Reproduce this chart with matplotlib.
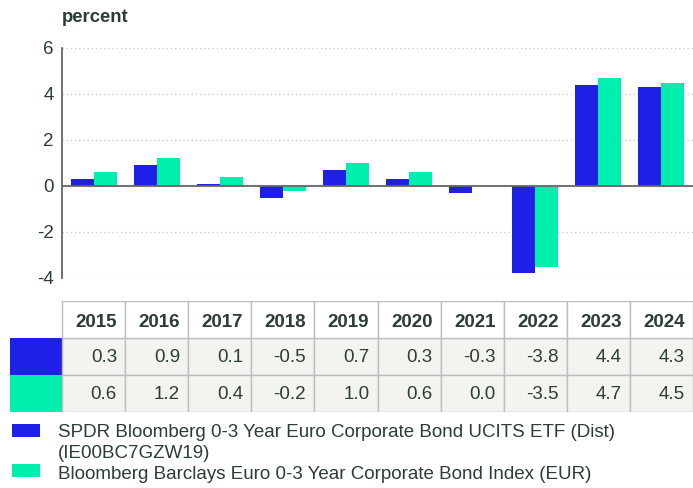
import numpy as np
import matplotlib.pyplot as plt

# --------------------------------------------
# DATA
# --------------------------------------------

years = ["2015", "2016", "2017", "2018", "2019", "2020", "2021", "2022", "2023", "2024"]
fund = [0.3, 0.9, 0.1, -0.5, 0.7, 0.3, -0.3, -3.8, 4.4, 4.3]
index = [0.6, 1.2, 0.4, -0.2, 1.0, 0.6, 0.0, -3.5, 4.7, 4.5]
series_names = ["SPDR Bloomberg 0-3 Year Euro Corporate Bond UCITS ETF (Dist)\n(IE00BC7GZW19)",
                "Bloomberg Barclays Euro 0-3 Year Corporate Bond Index (EUR)"]

blue = "#1f1fe8"
green = "#00efae"
txt = "#2b3d35"
W, H = 693, 488

plt.rcParams['font.family'] = ['Liberation Sans', 'DejaVu Sans']

fig = plt.figure(figsize=(W / 100, H / 100), dpi=100)


def px_axes(x0, y0, x1, y1):
    return fig.add_axes([x0 / W, 1 - y1 / H, (x1 - x0) / W, (y1 - y0) / H])


# --------------------------------------------
# BAR CHART
# --------------------------------------------

ax = px_axes(62, 48, 693, 278)
x = np.arange(len(years))
bw = 0.365
ax.bar(x - bw / 2, fund, bw, color=blue, zorder=3)
ax.bar(x + bw / 2, index, bw, color=green, zorder=3)
ax.set_xlim(-0.5, len(years) - 0.5)
ax.set_ylim(-4, 6)
ax.set_yticks([-4, -2, 0, 2, 4, 6])
ax.set_yticklabels(["-4", "-2", "0", "2", "4", "6"])
ax.tick_params(axis="y", length=0, labelsize=13.5, labelcolor=txt, pad=6)
ax.set_xticks([])
ax.grid(axis="y", color="#cccccc", linestyle=(0, (1, 2)), linewidth=1, zorder=0)
ax.axhline(0, color="#666666", linewidth=1.3, zorder=4)
for s in ["top", "right", "bottom"]:
    ax.spines[s].set_visible(False)
ax.spines["left"].set_color("#666666")
ax.spines["left"].set_linewidth(1.3)
fig.text(62 / W, 1 - 18 / H, "percent", fontsize=13.3, fontweight="bold",
         color=txt, va="center", ha="left")

# --------------------------------------------
# TABLE
# --------------------------------------------

col_w = 631 / len(years)
left_extra = 52 / col_w
tx = px_axes(10, 301, 693, 412)
tx.set_xlim(-0.5 - left_extra, len(years) - 0.5)
tx.set_ylim(3, 0)
tx.axis("off")
line_c = "#bdbdbd"
rows = [fund, index]
colors = [blue, green]
for r in range(2):
    tx.add_patch(plt.Rectangle((-0.5 - left_extra, r + 1), left_extra, 1,
                               color=colors[r], lw=0))
    for i, v in enumerate(rows[r]):
        tx.add_patch(plt.Rectangle((i - 0.5, r + 1), 1, 1,
                                   facecolor="#f3f3ef", edgecolor=line_c, lw=1))
        tx.text(i + 0.37, r + 1.52, "%.1f" % v, ha="right", va="center",
                fontsize=13.5, color=txt)
for i, yr in enumerate(years):
    tx.add_patch(plt.Rectangle((i - 0.5, 0), 1, 1,
                               facecolor="white", edgecolor=line_c, lw=1))
    tx.text(i + 0.37, 0.57, yr, ha="right", va="center", fontsize=13.5,
            fontweight="bold", color=txt)

# --------------------------------------------
# LEGEND
# --------------------------------------------

lg = px_axes(0, 412, 693, 488)
lg.set_xlim(0, W)
lg.set_ylim(488, 412)
lg.axis("off")
lg.add_patch(plt.Rectangle((12, 424), 28, 13, color=blue, lw=0))
lg.add_patch(plt.Rectangle((12, 464), 28, 13, color=green, lw=0))
# one text per legend line so the spacing matches
lines = series_names[0].split("\n") + [series_names[1]]
for k, line in enumerate(lines):
    lg.text(58, 432 + 21 * k, line, fontsize=13.5, color=txt, va="center")

fig.savefig("out.png", dpi=100)
